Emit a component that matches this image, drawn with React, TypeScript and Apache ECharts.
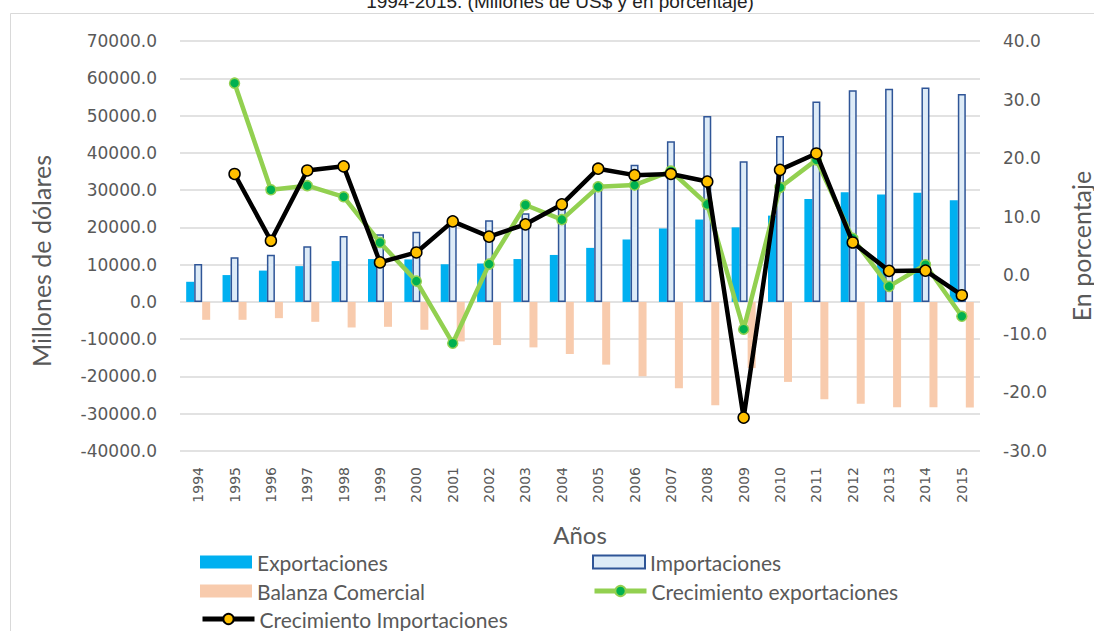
import React, { useEffect, useRef } from "react";
import * as echarts from "echarts";

const years = ["1994","1995","1996","1997","1998","1999","2000","2001","2002","2003","2004","2005","2006","2007","2008","2009","2010","2011","2012","2013","2014","2015"];
const exportaciones = [5400,7200,8400,9600,10950,11500,11400,10100,10300,11500,12600,14500,16750,19700,22100,20000,23150,27600,29400,28850,29300,27250];
const importaciones = [10150,12000,12650,14950,17700,18150,18800,20600,21900,23800,25100,30800,36800,43100,49900,37750,44500,53800,56800,57200,57500,55750];
const balanza = [-4800,-4800,-4360,-5340,-6860,-6680,-7480,-10600,-11580,-12200,-13980,-16830,-19950,-23160,-27700,-17750,-21460,-26100,-27340,-28230,-28230,-28320];
const crecExport = [null,32.8,14.6,15.3,13.4,5.6,-1.0,-11.6,1.9,12.0,9.5,15.1,15.4,17.8,12.1,-9.2,15.0,19.7,6.3,-1.9,1.8,-7.0];
const crecImport = [null,17.3,5.9,17.9,18.6,2.2,3.9,9.2,6.6,8.7,12.1,18.2,17.1,17.3,16.0,-24.3,18.0,20.8,5.6,0.75,0.8,-3.4];

const GRAY = "#595959";
const LEG_FONT = "Lato";

export default function App() {
  const ref = useRef<HTMLDivElement>(null);
  useEffect(() => {
    const chart = echarts.init(ref.current!, undefined, { renderer: "svg" });
    const legendBase = {
      orient: "horizontal",
      padding: 0,
      itemWidth: 52,
      itemHeight: 13,
      itemGap: 0,
      lineStyle: { width: 5 },
      textStyle: { color: GRAY, fontFamily: LEG_FONT, fontSize: 21, lineHeight: 22 },
    };
    chart.setOption({
      animation: false,
      backgroundColor: "#ffffff",
      graphic: [
        {
          type: "rect",
          shape: { x: 10.5, y: 13.5, width: 1200, height: 800 },
          style: { fill: "none", stroke: "#d9d9d9", lineWidth: 1 },
          silent: true,
          z: -10,
        },
        {
          type: "text",
          x: 560,
          y: -8,
          style: {
            text: "1994-2015. (Millones de US$ y en porcentaje)",
            fontFamily: "Liberation Sans",
            fontSize: 19,
            fill: "#222222",
            textAlign: "center",
            textVerticalAlign: "top",
          },
        },
      ],
      grid: { left: 180, right: 114, top: 41, bottom: 180, outerBoundsMode: "none" },
      legend: [
        { ...legendBase, left: 200, top: 551, data: [{ name: "Exportaciones", icon: "rect" }] },
        { ...legendBase, left: 592, top: 551, data: [{ name: "Importaciones", icon: "rect" }] },
        { ...legendBase, left: 200, top: 580, data: [{ name: "Balanza Comercial", icon: "rect" }] },
        { ...legendBase, left: 592, top: 580, data: ["Crecimiento exportaciones"] },
        { ...legendBase, left: 200, top: 608, data: ["Crecimiento Importaciones"] },
      ],
      xAxis: {
        type: "category",
        data: years,
        axisLine: { show: false },
        axisTick: { show: false },
        axisLabel: {
          rotate: 90,
          margin: 16,
          color: GRAY,
          fontFamily: "DejaVu Sans",
          fontSize: 14,
          interval: 0,
        },
        name: "Años",
        nameLocation: "middle",
        nameGap: 71,
        nameTextStyle: { color: GRAY, fontFamily: LEG_FONT, fontSize: 24 },
      },
      yAxis: [
        {
          type: "value",
          min: -40000,
          max: 70000,
          interval: 10000,
          axisLine: { show: false },
          axisTick: { show: false },
          axisLabel: {
            formatter: (v: number) => v.toFixed(1),
            color: GRAY,
            fontFamily: "DejaVu Sans",
            fontSize: 17,
            margin: 23,
          },
          splitLine: { lineStyle: { color: "#d9d9d9", width: 1.5 } },
          name: "Millones de dólares",
          nameLocation: "middle",
          nameRotate: 90,
          nameGap: 127,
          nameTextStyle: { color: GRAY, fontFamily: LEG_FONT, fontSize: 25, padding: [0, 30, 0, 0] },
        },
        {
          type: "value",
          min: -30,
          max: 40,
          interval: 10,
          axisLine: { show: false },
          axisTick: { show: false },
          splitLine: { show: false },
          axisLabel: {
            formatter: (v: number) => v.toFixed(1),
            color: GRAY,
            fontFamily: "DejaVu Sans",
            fontSize: 17,
            margin: 23,
          },
          name: "En porcentaje",
          nameLocation: "middle",
          nameRotate: 90,
          nameGap: 88,
          nameTextStyle: { color: GRAY, fontFamily: LEG_FONT, fontSize: 25 },
        },
      ],
      series: [
        {
          name: "Exportaciones",
          type: "bar",
          data: exportaciones,
          barWidth: 8,
          barGap: "0%",
          itemStyle: { color: "#00B0F0" },
        },
        {
          name: "Importaciones",
          type: "bar",
          data: importaciones,
          barWidth: 8,
          barGap: "0%",
          itemStyle: { color: "#DDEBF7", borderColor: "#2F5597", borderWidth: 1.5 },
        },
        {
          name: "Balanza Comercial",
          type: "bar",
          data: balanza,
          barWidth: 8,
          barGap: "0%",
          itemStyle: { color: "#F8CBAD" },
        },
        {
          name: "Crecimiento exportaciones",
          type: "line",
          yAxisIndex: 1,
          data: crecExport,
          symbol: "circle",
          symbolSize: 10,
          lineStyle: { color: "#92D050", width: 4.5 },
          itemStyle: { color: "#00B050", borderColor: "#92D050", borderWidth: 1.5 },
          z: 3,
        },
        {
          name: "Crecimiento Importaciones",
          type: "line",
          yAxisIndex: 1,
          data: crecImport,
          symbol: "circle",
          symbolSize: 11,
          lineStyle: { color: "#000000", width: 4.5 },
          itemStyle: { color: "#FFC000", borderColor: "#000000", borderWidth: 1.5 },
          z: 4,
        },
      ],
    });
    return () => chart.dispose();
  }, []);
  return (
    <div
      ref={ref}
      style={{ position: "fixed", left: 0, top: 0, width: 1094, height: 631 }}
    />
  );
}
